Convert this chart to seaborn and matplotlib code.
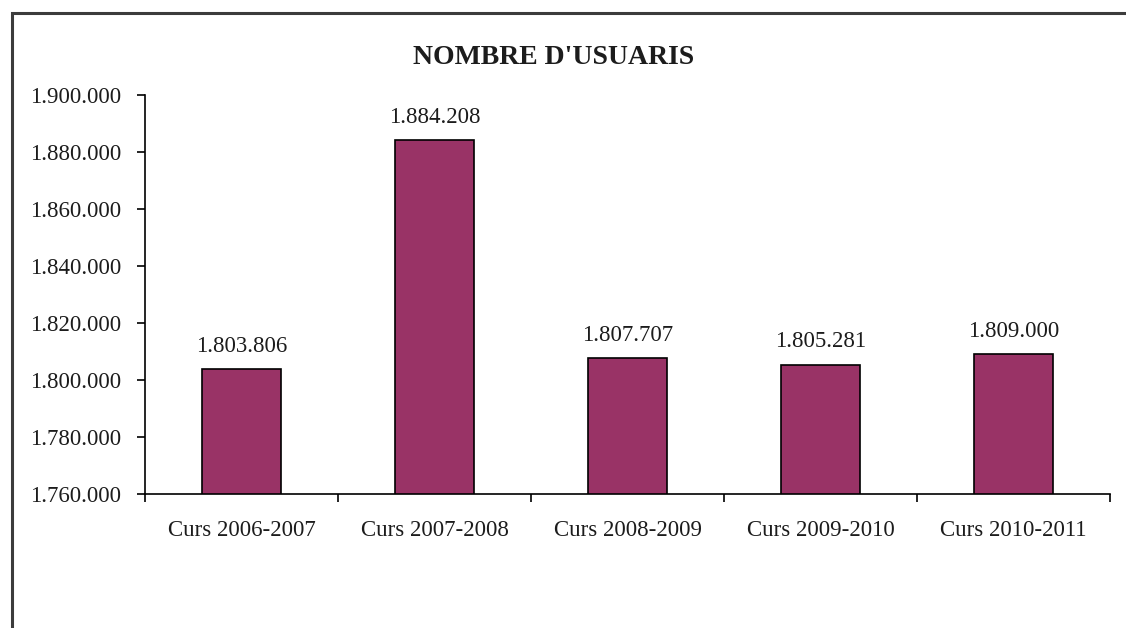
import matplotlib
matplotlib.use("Agg")
import matplotlib.pyplot as plt
import matplotlib.ticker as mticker
from matplotlib.patches import Rectangle
import seaborn as sns
import pandas as pd

# Data
cursos = ["Curs 2006-2007", "Curs 2007-2008", "Curs 2008-2009", "Curs 2009-2010", "Curs 2010-2011"]
usuaris = [1803806, 1884208, 1807707, 1805281, 1809000]
y_ticks = [1760000, 1780000, 1800000, 1820000, 1840000, 1860000, 1880000, 1900000]
titol = "NOMBRE D'USUARIS"

sns.set_theme(style="white")
plt.rcParams["font.family"] = ["Liberation Serif", "DejaVu Serif"]
text_color = "#1c1c1c"

df = pd.DataFrame({"curs": cursos, "usuaris": usuaris})

fig = plt.figure(figsize=(11.26, 6.28), dpi=100)
ax = fig.add_axes([145 / 1126, 1 - 494 / 628, 965 / 1126, 399 / 628])

sns.barplot(data=df, x="curs", y="usuaris", color="#993366", saturation=1,
            edgecolor="black", linewidth=1.2, width=0.41, ax=ax)

def punts(v):
    return f"{int(v):,}".replace(",", ".")

ax.set_ylim(y_ticks[0], y_ticks[-1])
ax.set_xlim(-0.5, len(cursos) - 0.5)
ax.set_yticks(y_ticks)
ax.yaxis.set_major_formatter(mticker.FuncFormatter(lambda v, p: punts(v)))

# Category boundaries carry the x tick marks
ax.set_xticks([i - 0.5 for i in range(len(cursos) + 1)], minor=True)
ax.tick_params(axis="x", which="major", length=0, pad=19, labelsize=16.5, labelcolor=text_color)
ax.tick_params(axis="x", which="minor", length=6, width=1.2, direction="out", color="black", bottom=True)
ax.tick_params(axis="y", which="major", length=6, width=1.2, direction="out", color="black",
               left=True, pad=11, labelsize=16.5, labelcolor=text_color)
ax.set_xlabel("")
ax.set_ylabel("")

for side in ["top", "right"]:
    ax.spines[side].set_visible(False)
for side in ["left", "bottom"]:
    ax.spines[side].set_color("black")
    ax.spines[side].set_linewidth(1.2)

ax.bar_label(ax.containers[0], labels=[punts(v) for v in usuaris], padding=9,
             fontsize=16.5, color=text_color)

fig.text(554 / 1126, 1 - 57 / 628, titol, ha="center", va="center",
         fontsize=20, fontweight="bold", color=text_color)

# Outer chart frame
fig.patches.append(Rectangle((12 / 1126, -0.05), 1.1, 1 - 13.5 / 628 + 0.05,
                             transform=fig.transFigure, fill=False,
                             edgecolor="#3c3c3c", linewidth=2.2, zorder=10))

fig.savefig("out.png", dpi=100, facecolor="white")
